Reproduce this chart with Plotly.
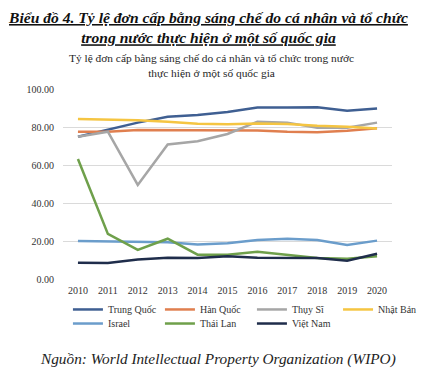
import plotly.graph_objects as go

years = [2010, 2011, 2012, 2013, 2014, 2015, 2016, 2017, 2018, 2019, 2020]
trung_quoc = [74.9, 78.8, 82.3, 85.4, 86.3, 87.9, 90.2, 90.2, 90.4, 88.6, 89.8]
han_quoc = [77.5, 77.5, 78.4, 78.3, 78.2, 78.2, 78.1, 77.5, 77.3, 78.0, 79.3]
thuy_si = [74.9, 77.5, 49.5, 70.8, 72.5, 76.3, 82.8, 82.3, 79.6, 79.6, 82.3]
nhat_ban = [84.2, 83.9, 83.5, 82.7, 81.7, 81.4, 81.9, 81.6, 80.6, 80.1, 79.2]
israel = [20.0, 19.8, 19.6, 19.4, 18.2, 18.8, 20.5, 21.2, 20.5, 17.9, 20.2]
thai_lan = [63.2, 23.7, 15.3, 21.2, 12.8, 12.8, 14.4, 12.6, 11.0, 10.6, 12.0]
viet_nam = [8.6, 8.4, 10.3, 11.2, 11.1, 12.0, 11.2, 11.1, 11.1, 9.6, 13.3]

series = [
    ("Trung Quốc", trung_quoc, "#3F5F92", "legend"),
    ("Hàn Quốc", han_quoc, "#E07F4F", "legend"),
    ("Thụy Sĩ", thuy_si, "#A6A6A6", "legend"),
    ("Nhật Bản", nhat_ban, "#F5C542", "legend3"),
    ("Israel", israel, "#6B9DCB", "legend2"),
    ("Thái Lan", thai_lan, "#6FA04B", "legend2"),
    ("Việt Nam", viet_nam, "#1F2D4B", "legend2"),
]

serif = "Liberation Serif"
fig = go.Figure()
for name, vals, color, lg in series:
    fig.add_trace(go.Scatter(x=years, y=vals, name=name, mode="lines",
                             line=dict(color=color, width=2.5), legend=lg))

legend_common = dict(orientation="h", xanchor="left", yanchor="top",
                     entrywidth=47, entrywidthmode="pixels", itemwidth=30,
                     font=dict(family=serif, size=10, color="#333333"),
                     bgcolor="rgba(0,0,0,0)")

fig.update_layout(
    width=435, height=379,
    paper_bgcolor="white", plot_bgcolor="white",
    margin=dict(l=55, r=51, t=81, b=108, autoexpand=False),
    font=dict(family=serif, size=10, color="#404040"),
    xaxis=dict(tickmode="array", tickvals=years, range=[2009.5, 2020.5],
               showgrid=False, zeroline=False, showline=False,
               ticklabelstandoff=4,
               tickfont=dict(family=serif, size=10, color="#333333")),
    yaxis=dict(range=[0, 100], tickvals=[0, 20, 40, 60, 80, 100], tickformat=".2f",
               showgrid=True, gridcolor="#DADADA", gridwidth=1, zeroline=False,
               showline=False, ticklabelstandoff=8,
               tickfont=dict(family=serif, size=10, color="#333333")),
    legend=dict(x=0.015, y=-0.084, **legend_common),
    legend3=dict(x=0.836, y=-0.084, **legend_common),
    legend2=dict(x=0.015, y=-0.158, **legend_common),
    showlegend=True,
)

fig.add_annotation(
    text="<b><i><u>Biểu đồ 4. Tỷ lệ đơn cấp bằng sáng chế do cá nhân và tổ chức</u></i></b><br>"
         "<b><i><u>trong nước thực hiện ở một số quốc gia</u></i></b>",
    xref="paper", yref="paper", x=0.5, y=1, xanchor="center", yanchor="bottom",
    xshift=-20, yshift=41,
    showarrow=False, align="center",
    font=dict(family=serif, size=15.6, color="#111111"))

fig.add_annotation(
    text="Tỷ lệ đơn cấp bằng sáng chế do cá nhân và tổ chức trong nước<br>thực hiện ở một số quốc gia",
    xref="paper", yref="paper", x=0.5, y=1, xanchor="center", yanchor="bottom",
    xshift=-16, yshift=8,
    showarrow=False, align="center",
    font=dict(family=serif, size=11.4, color="#262626"))

fig.add_annotation(
    text="<i>Nguồn: World Intellectual Property Organization (WIPO)</i>",
    xref="paper", yref="paper", x=0.5, y=0, xanchor="center", yanchor="top",
    xshift=-10, yshift=-69,
    showarrow=False, align="center",
    font=dict(family=serif, size=15.3, color="#222222"))

fig.write_html("out.html")
